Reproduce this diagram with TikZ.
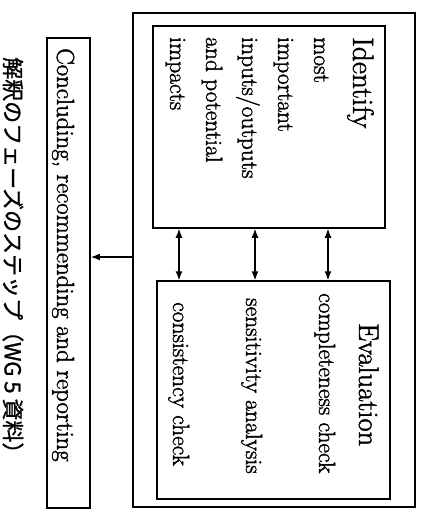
\documentclass[tikz,border=0pt]{standalone}
\usepackage{fontspec}
\setmainfont{Latin Modern Roman}[FakeBold=1.6]
\newfontfamily\jpfont{Noto Sans CJK JP}[FakeBold=1.2]
\usetikzlibrary{arrows.meta}
\begin{document}
\begin{tikzpicture}[x=1pt,y=-1pt,
  box/.style={draw, line width=1.5pt, inner sep=0pt},
  txt/.style={rotate=-90, inner sep=0pt, anchor=base west},
  body/.style={font=\fontsize{23.5}{36}\selectfont},
  tip/.tip={Latex[length=9pt,width=7pt]},
  link/.style={line width=1.2pt, tip-tip},
  onearrow/.style={line width=1.2pt, -tip},
  ]
\useasboundingbox (0,0) rectangle (425,512);
% boxes
\node[box, line width=2pt, minimum width=282pt, minimum height=494pt] (outer) at (274,260) {};
\node[box, minimum width=232pt, minimum height=202pt] (ident) at (269,127) {};
\node[box, minimum width=233pt, minimum height=218pt] (eval) at (273.5,390) {};
\node[box, line width=1.8pt, minimum width=43pt, minimum height=470pt] (concl) at (68.5,273) {};
% texts
\node[rotate=-90, inner sep=0pt, anchor=north west, align=left, body] (idtxt) at (374,37)
  {{\fontsize{29.5}{36}\selectfont Identify}\\[3pt] most\\ important\\ inputs/outputs\\ and potential\\ impacts};
\node[txt, font=\fontsize{28.5}{34}\selectfont] (evtitle) at (359,323) {Evaluation};
\node[txt, body] (t1) at (319,293) {completeness check};
\node[txt, body] (t2) at (246,298) {sensitivity analysis};
\node[txt, body] (t3) at (173,302) {consistency check};
\node[txt, font=\fontsize{24.8}{30}\selectfont] (ctxt) at (57,48) {Concluding, recommending and reporting};
\node[rotate=-90, inner sep=0pt, anchor=west, font=\jpfont\fontsize{22}{26}\selectfont] (cap) at (13,57)
  {解釈のフェーズのステップ（WG 5 資料）};
% connectors
\coordinate (a1) at (179,0);
\coordinate (a2) at (255,0);
\coordinate (a3) at (328,0);
\coordinate (c0) at (0,257);
\draw[link] (ident.south -| a1) -- (eval.north -| a1);
\draw[link] (ident.south -| a2) -- (eval.north -| a2);
\draw[link] (ident.south -| a3) -- (eval.north -| a3);
\draw[onearrow] (outer.west |- c0) -- (concl.east |- c0);
\end{tikzpicture}
\end{document}
